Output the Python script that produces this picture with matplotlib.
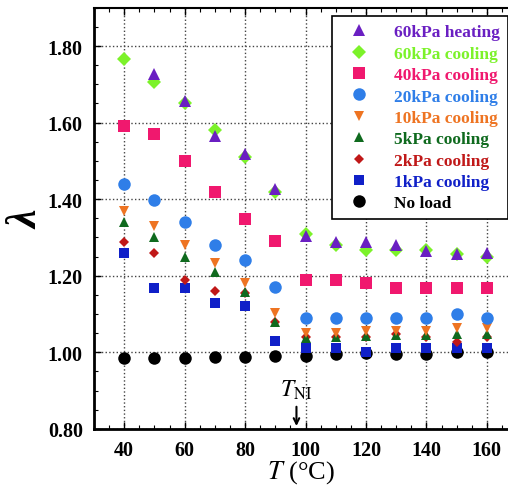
import numpy as np
import matplotlib
matplotlib.use("Agg")
from matplotlib import pyplot as plt
from matplotlib.ticker import MultipleLocator

plt.rcParams['font.family'] = ['Liberation Serif', 'DejaVu Serif']
plt.rcParams['mathtext.fontset'] = 'stix'

T = [40, 50, 60, 70, 80, 90, 100, 110, 120, 130, 140, 150, 160]

heat60 = [1.728, 1.657, 1.566, 1.519, 1.427, 1.305, 1.289, 1.289, 1.280, 1.265, 1.258, 1.260]
T_heat60 = T[1:]
cool60 = [1.767, 1.707, 1.650, 1.580, 1.510, 1.420, 1.310, 1.280, 1.268, 1.268, 1.268, 1.257, 1.250]
cool40 = [1.590, 1.569, 1.499, 1.420, 1.349, 1.290, 1.190, 1.190, 1.180, 1.169, 1.169, 1.169, 1.169]
cool20 = [1.440, 1.399, 1.341, 1.281, 1.240, 1.171, 1.090, 1.090, 1.090, 1.090, 1.090, 1.100, 1.090]
cool10 = [1.368, 1.330, 1.281, 1.234, 1.182, 1.103, 1.051, 1.051, 1.055, 1.055, 1.055, 1.064, 1.064]
cool5 = [1.341, 1.300, 1.250, 1.210, 1.158, 1.080, 1.038, 1.040, 1.043, 1.045, 1.045, 1.048, 1.047]
cool2 = [1.289, 1.260, 1.190, 1.159, 1.156, 1.080, 1.040, 1.040, 1.040, 1.048, 1.040, 1.028, 1.040]
cool1 = [1.260, 1.169, 1.169, 1.129, 1.120, 1.030, 1.012, 1.012, 1.000, 1.012, 1.012, 1.012, 1.012]
noload = [0.986, 0.986, 0.986, 0.987, 0.987, 0.990, 0.990, 0.996, 0.997, 0.996, 0.996, 1.002, 1.000]

fig = plt.figure(figsize=(5.08, 4.89), dpi=100)
ax = fig.add_axes([0.185, 0.121, 0.815, 0.861])

series = [
    (T_heat60, heat60, '^', '#6a1fc2', 8, '60kPa heating'),
    (T, cool60, 'D', '#7cf22a', 7, '60kPa cooling'),
    (T, cool40, 's', '#f0186e', 9, '40kPa cooling'),
    (T, cool20, 'o', '#2f7ee8', 9, '20kPa cooling'),
    (T, cool10, 'v', '#ee7422', 7, '10kPa cooling'),
    (T, cool5, '^', '#0f6a1e', 7, '5kPa cooling'),
    (T, cool2, 'D', '#c01818', 5, '2kPa cooling'),
    (T, cool1, 's', '#1020c8', 7, '1kPa cooling'),
    (T, noload, 'o', 'black', 9, 'No load'),
]

# draw from bottom of the legend up, so the big ones sit on top like the original
handles = [None] * len(series)
for i in range(len(series) - 1, -1, -1):
    x, y, m, c, ms, lab = series[i]
    h, = ax.plot(x, y, linestyle='none', marker=m, color=c, markersize=ms,
                 markeredgewidth=0, label=lab)
    handles[i] = h

ax.set_xlim(30, 167)
ax.set_ylim(0.80, 1.90)
ax.xaxis.set_minor_locator(MultipleLocator(5))
ax.yaxis.set_minor_locator(MultipleLocator(0.05))
ax.set_xticks([40, 60, 80, 100, 120, 140, 160])
ax.set_yticks([0.8, 1.0, 1.2, 1.4, 1.6, 1.8])
ax.set_yticklabels(['%.2f' % v for v in [0.8, 1.0, 1.2, 1.4, 1.6, 1.8]])
ax.tick_params(which='both', direction='in', top=True, right=False)
ax.tick_params(which='major', length=5, width=1, labelsize=14.5, pad=8)
ax.tick_params(which='minor', length=3, width=0.8)
for lbl in ax.get_xticklabels() + ax.get_yticklabels():
    lbl.set_fontweight('bold')
ax.grid(which='major', linestyle=':', color='#444444', linewidth=1)
ax.set_axisbelow(True)

for s in ['left', 'bottom']:
    ax.spines[s].set_linewidth(2)
ax.spines['top'].set_linewidth(1.5)
ax.spines['right'].set_visible(False)

ax.set_ylabel('λ', fontsize=30, fontweight='bold', style='italic',
              va='center')
ax.yaxis.set_label_coords(-0.16, 0.5)
ax.set_xlabel(r'$T$ (°C)', fontsize=19, labelpad=-1)

ax.annotate('', xy=(97, 0.80), xytext=(97, 0.865),
            arrowprops=dict(arrowstyle='->', color='black', lw=1.5))
ax.text(97, 0.872, r'$T_{\rm NI}$', fontsize=17, ha='center', va='bottom')

leg = ax.legend(handles=handles, loc='upper right',
                prop={'weight': 'bold', 'size': 12.5}, frameon=True,
                fancybox=False, edgecolor='black', framealpha=1,
                handletextpad=0.9, labelspacing=0.3, borderpad=0.45,
                handlelength=2.2, bbox_to_anchor=(1.02, 1.0))
leg.get_frame().set_linewidth(1.2)
for txt, (_, _, _, c, _, _) in zip(leg.get_texts(), series):
    txt.set_color(c)

fig.savefig('out.png', dpi=100)
